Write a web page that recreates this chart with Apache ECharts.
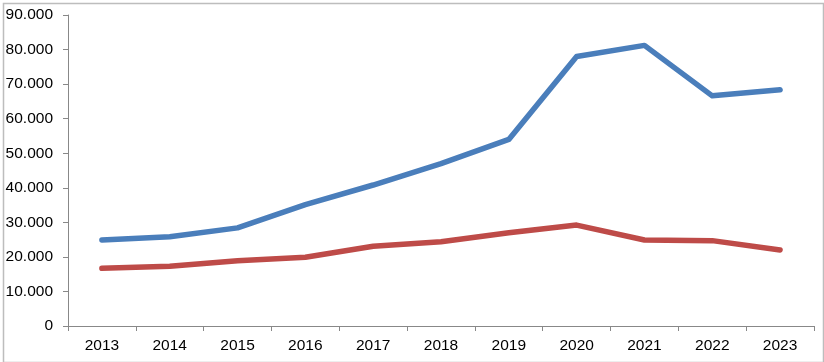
<!DOCTYPE html>
<html>
<head>
<meta charset="utf-8">
<script src="https://cdn.jsdelivr.net/npm/echarts@6/dist/echarts.min.js"></script>
<style>html,body{margin:0;padding:0;background:#fff}#c{width:824px;height:362px}</style>
</head>
<body>
<div id="c"></div>
<script>
const years = ['2013','2014','2015','2016','2017','2018','2019','2020','2021','2022','2023'];
const blueSeries = [24900, 25800, 28400, 35100, 40800, 47000, 54000, 78000, 81200, 66600, 68400];
const redSeries = [16700, 17300, 18900, 19900, 23100, 24400, 27000, 29200, 24900, 24700, 22000];
const yTicks = [0, 10000, 20000, 30000, 40000, 50000, 60000, 70000, 80000, 90000];

function fmt(v) {
  return v === 0 ? '0' : String(v).replace(/\B(?=(\d{3})+(?!\d))/g, '.');
}

const chart = echarts.init(document.getElementById('c'), null, {renderer: 'canvas'});
const font = 'Liberation Sans';
chart.setOption({
  animation: false,
  backgroundColor: '#ffffff',
  grid: {left: 68, right: 10, top: 15, bottom: 36, containLabel: false},
  graphic: [{
    type: 'rect', left: 1, top: 1, z: 100, silent: true,
    shape: {width: 820, height: 359},
    style: {fill: 'none', stroke: '#bdbdbd', lineWidth: 1.5}
  }],
  xAxis: {
    type: 'category',
    data: years,
    boundaryGap: true,
    axisLine: {lineStyle: {color: '#888888', width: 1}},
    axisTick: {show: true, inside: false, length: 5, alignWithLabel: false, lineStyle: {color: '#888888'}},
    axisLabel: {color: '#000000', fontFamily: font, fontSize: 15.5, margin: 12}
  },
  yAxis: {
    type: 'value',
    min: yTicks[0],
    max: yTicks[yTicks.length - 1],
    interval: 10000,
    splitLine: {show: false},
    axisLine: {show: true, lineStyle: {color: '#888888', width: 1}},
    axisTick: {show: true, inside: false, length: 5, lineStyle: {color: '#888888'}},
    axisLabel: {color: '#000000', fontFamily: font, fontSize: 15.5, margin: 15, formatter: fmt}
  },
  series: [
    {
      type: 'line', data: blueSeries, showSymbol: false, smooth: false,
      lineStyle: {color: '#4a7ebb', width: 5.5, cap: 'round', join: 'round'},
      itemStyle: {color: '#4a7ebb'}
    },
    {
      type: 'line', data: redSeries, showSymbol: false, smooth: false,
      lineStyle: {color: '#be4b48', width: 5.5, cap: 'round', join: 'round'},
      itemStyle: {color: '#be4b48'}
    }
  ]
});
</script>
</body>
</html>
